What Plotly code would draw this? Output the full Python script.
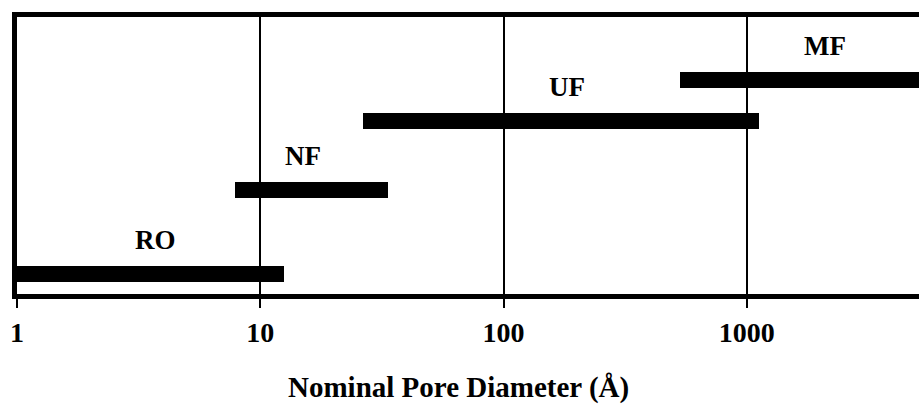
import math
import plotly.graph_objects as go

# Data (nominal pore diameter ranges, in Angstrom)
processes = ["RO", "NF", "UF", "MF"]
range_start = [1.0, 7.9, 26.5, 532.0]
range_end = [12.5, 33.6, 1124.0, 10000.0]
levels = [0.73, 3.76, 6.24, 7.74]          # vertical position of each bar
label_x = [3.7, 15.0, 183.0, 2100.0]         # where each process name sits
tick_values = [1, 10, 100, 1000]
tick_labels = ["1", "10", "100", "1000"]
x_title = "Nominal Pore Diameter (Å)"

SERIF = "Liberation Serif"

fig = go.Figure()
fig.add_trace(go.Bar(
    orientation="h",
    y=levels,
    base=range_start,
    x=[e - s for s, e in zip(range_start, range_end)],
    width=0.57,
    marker=dict(color="black", line=dict(width=0)),
    hoverinfo="skip",
    showlegend=False,
))

for name, lx, lv in zip(processes, label_x, levels):
    fig.add_annotation(
        x=math.log10(lx), y=lv, xref="x", yref="y", text=name, showarrow=False,
        yshift=34, font=dict(family=SERIF, size=27, color="black", weight="bold"),
    )

fig.add_annotation(
    x=0.49, y=0, xref="paper", yref="paper", text=x_title, showarrow=False,
    yshift=-93, yanchor="middle", xanchor="center",
    font=dict(family=SERIF, size=29, color="black", weight="bold"),
)

fig.update_xaxes(
    type="log",
    range=[0, 3.708],
    tickvals=tick_values,
    ticktext=tick_labels,
    showgrid=True, gridcolor="black", gridwidth=1.5,
    showline=True, linecolor="black", linewidth=5, mirror=True,
    ticks="outside", ticklen=9, tickwidth=2, tickcolor="black",
    tickfont=dict(family=SERIF, size=28, color="black", weight="bold"),
    zeroline=False,
)
fig.update_yaxes(
    range=[0, 10],
    showgrid=False, zeroline=False, showticklabels=False, ticks="",
    showline=True, linecolor="black", linewidth=5, mirror=False,
)
fig.update_layout(
    width=919, height=410,
    margin=dict(l=17, r=0, t=17, b=116),
    paper_bgcolor="white", plot_bgcolor="white",
    bargap=0,
)
fig.write_html("out.html")
